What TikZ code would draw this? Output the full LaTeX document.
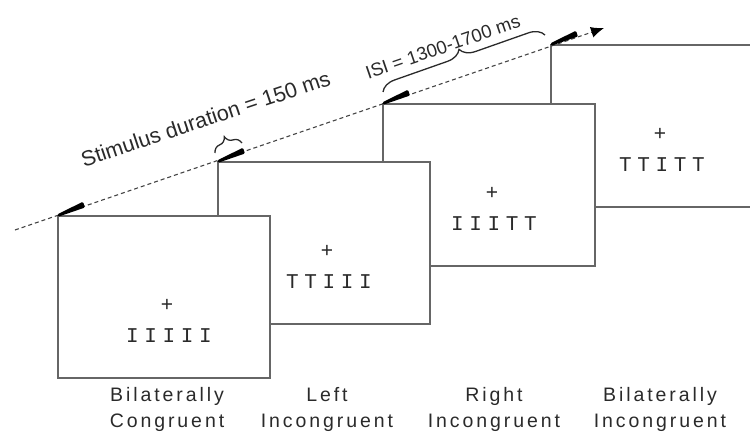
\documentclass[tikz,border=0pt]{standalone}
\usepackage{fontspec}
\setmainfont{Liberation Sans}
\newfontfamily\labfont[LetterSpace=15]{Liberation Sans}
\newfontfamily\stimfont[LetterSpace=27]{Liberation Mono}
\usetikzlibrary{arrows.meta,decorations.pathreplacing,calc}
\definecolor{linegray}{HTML}{666666}
\definecolor{dashgray}{HTML}{444444}
\definecolor{txtgray}{HTML}{2a2a2a}
\newcommand\onsetbar[1]{\fill[black, rounded corners=1.2pt] ($(#1)+(0,0.8)$) -- ++(27,-9.3) -- ++(-2,-5.8) -- ($(#1)+(-0.6,-1.7)$) -- cycle;}
\begin{document}
\begin{tikzpicture}[x=1pt,y=-1pt,
  screen/.style={draw=linegray, line width=1.4pt, fill=white, minimum width=212pt,
    minimum height=162pt, inner sep=0pt, outer sep=0pt, anchor=north west},
  plus/.style={font=\fontsize{21}{24}\selectfont, text=txtgray, inner sep=0pt},
  letters/.style={font=\stimfont\fontsize{21}{24}\selectfont, text=txtgray, inner sep=0pt, anchor=base},
  lab/.style={font=\labfont\fontsize{19.5}{23}\selectfont, text=txtgray, inner sep=0pt, anchor=base},
  timeline/.style={draw=dashgray, line width=1.1pt, dash pattern=on 4pt off 3pt,
    -{Latex[length=13pt,width=11pt,fill=black,color=black]}},
  bracestyle/.style={draw=txtgray, line width=1.3pt, decorate}
]
\useasboundingbox (0,0) rectangle (750,439);
\clip (0,0) rectangle (750,439);

% screens, back to front
\node[screen] (s4) at (551,45) {};
\node[screen] (s3) at (383,104) {};
\node[screen] (s2) at (218,162) {};
\node[screen] (s1) at (58,216) {};

% stimuli
\node[plus] (p1) at ($(s1.north west)+(109,89)$) {+};
\node[letters] (t1) at ($(s1.north west)+(111,126)$) {IIIII};
\node[plus] (p2) at ($(s2.north west)+(109,89)$) {+};
\node[letters] (t2) at ($(s2.north west)+(111,126)$) {TTIII};
\node[plus] (p3) at ($(s3.north west)+(109,89)$) {+};
\node[letters] (t3) at ($(s3.north west)+(111,126)$) {IIITT};
\node[plus] (p4) at ($(s4.north west)+(109,89)$) {+};
\node[letters] (t4) at ($(s4.north west)+(111,126)$) {TTITT};

% time line
\coordinate (tstart) at (15,230);
\coordinate (ttip) at (604,28);
\draw[timeline] (tstart) -- (ttip);
\onsetbar{s1.north west}
\onsetbar{s2.north west}
\onsetbar{s3.north west}
\onsetbar{s4.north west}

% braces
\coordinate (b1s) at (215,153);
\coordinate (b1e) at (242,143);
\draw[bracestyle, decoration={brace, amplitude=12pt}] (b1s) -- (b1e);
\coordinate (b2s) at (383,92);
\coordinate (b2e) at (545,35);
\draw[bracestyle, decoration={brace, amplitude=15pt}] (b2s) -- (b2e);

\node[rotate=18.5, anchor=base, inner sep=0pt, text=txtgray, font=\fontsize{21.5}{25}\selectfont]
  (stimtxt) at (208,126) {Stimulus duration = 150 ms};
\node[rotate=19, anchor=base, inner sep=0pt, text=txtgray, font=\fontsize{18.5}{22}\selectfont]
  (isitxt) at (445,53) {ISI = 1300-1700 ms};

% condition labels
\node[lab] (l1a) at (167,401) {Bilaterally};
\node[lab] (l1b) at (167,427) {Congruent};
\node[lab] (l2a) at (327,401) {Left};
\node[lab] (l2b) at (327,427) {Incongruent};
\node[lab] (l3a) at (494,401) {Right};
\node[lab] (l3b) at (494,427) {Incongruent};
\node[lab] (l4a) at (660,401) {Bilaterally};
\node[lab] (l4b) at (660,427) {Incongruent};
\end{tikzpicture}
\end{document}
